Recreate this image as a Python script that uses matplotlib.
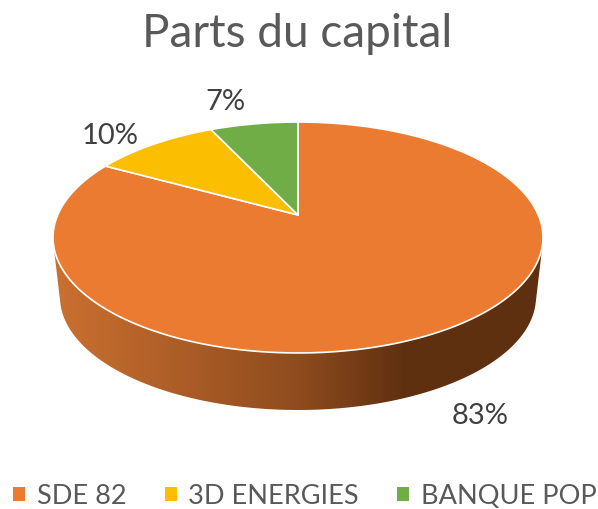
import numpy as np
import matplotlib
matplotlib.use("Agg")
import matplotlib.pyplot as plt
from matplotlib.patches import Polygon, Patch
from matplotlib.colors import LinearSegmentedColormap

title = "Parts du capital"
categories = ["SDE 82", "3D ENERGIES", "BANQUE POP"]
values = [83, 10, 7]
colors = ["#EB7B31", "#FBBE00", "#70AD47"]
label_pos = [(480, 416), (110, 136), (225, 102)]

W, H = 598, 509
CX, CY = 298, 215
A, C, K = 69.2, -0.1948, 240.3
BOT_CY, BOT_A, BOT_B = 297, 238, 113

def project(theta):
    """Pie angle (clockwise from top) to image pixels on the perspective top face."""
    x, y = np.sin(theta), -np.cos(theta)
    d = 1 + C * y
    return np.column_stack([CX + K * x / d, (A * y + CY) / d])

def hull(pts):
    pts = sorted(map(tuple, pts))
    def half(seq):
        out = []
        for p in seq:
            while len(out) > 1 and ((out[-1][0]-out[-2][0])*(p[1]-out[-2][1]) - (out[-1][1]-out[-2][1])*(p[0]-out[-2][0])) <= 0:
                out.pop()
            out.append(p)
        return out[:-1]
    return np.array(half(pts) + half(pts[::-1]))

fig = plt.figure(figsize=(W/100, H/100), dpi=100)
ax = fig.add_axes([0, 0, 1, 1])
ax.set_xlim(0, W)
ax.set_ylim(H, 0)
ax.axis("off")

# side wall: hull of top rim and bottom ellipse, with horizontal shading
t = np.linspace(0, 2*np.pi, 721)
rim = project(t)
bottom = np.column_stack([CX + BOT_A*np.sin(t), BOT_CY + BOT_B*np.cos(t)])
h = hull(np.vstack([rim, bottom]))
cmap = LinearSegmentedColormap.from_list("side", [(0, "#CB7030"), (0.5, "#8F4C1E"), (0.72, "#5F3010"), (1, "#5F3010")])
im = ax.imshow(np.linspace(0, 1, 256)[None, :], extent=(53, 543, H, 0), cmap=cmap, aspect="auto", zorder=1)
clip = Polygon(h, closed=True, transform=ax.transData, fc="none", ec="none")
ax.add_patch(clip)
im.set_clip_path(clip)
ax.set_xlim(0, W)
ax.set_ylim(H, 0)

# top face slices
fractions = np.array(values) / sum(values)
edges = np.concatenate([[0], np.cumsum(fractions)]) * 2*np.pi
for i, (v, col) in enumerate(zip(values, colors)):
    arc = project(np.linspace(edges[i], edges[i+1], 300))
    ax.add_patch(Polygon(np.vstack([[CX, CY], arc]), closed=True, fc=col, ec="white", lw=1.2, zorder=3, joinstyle="round"))

for v, (x, y) in zip(values, label_pos):
    ax.text(x, y, f"{v}%", ha="center", va="center", fontsize=21, color="#404040", family="Lato", zorder=5)

ax.text(297, 34, title, ha="center", va="center", fontsize=33, color="#595959", family="Lato")

handles = [Patch(fc=c, ec="none") for c in colors]
ax.legend(handles, categories, loc="lower left", bbox_to_anchor=(13/W, 0.5/H), ncol=3, frameon=False,
          prop={"family": "Lato", "size": 19.5}, labelcolor="#595959",
          handlelength=0.45, handleheight=0.45, handletextpad=0.42, columnspacing=1.42, borderpad=0, borderaxespad=0)

fig.savefig("out.png", dpi=100)
